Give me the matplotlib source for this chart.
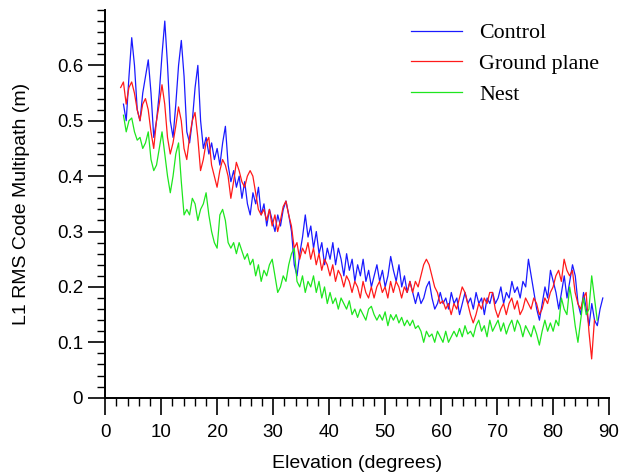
import numpy as np
import matplotlib
matplotlib.use('Agg')
import matplotlib.pyplot as plt
from matplotlib.ticker import MultipleLocator

control = [
    0.53, 0.50, 0.58, 0.65, 0.60, 0.52, 0.50, 0.55, 0.58, 0.61,
    0.55, 0.47, 0.50, 0.55, 0.62, 0.68, 0.60, 0.50, 0.47, 0.53,
    0.60, 0.645, 0.58, 0.48, 0.46, 0.50, 0.56, 0.60, 0.50, 0.45,
    0.47, 0.44, 0.46, 0.43, 0.45, 0.42, 0.46, 0.49, 0.42, 0.39,
    0.41, 0.38, 0.40, 0.36, 0.39, 0.35, 0.33, 0.37, 0.35, 0.38,
    0.33, 0.35, 0.31, 0.34, 0.32, 0.30, 0.33, 0.31, 0.34, 0.355,
    0.33, 0.30, 0.24, 0.22, 0.26, 0.29, 0.33, 0.29, 0.31, 0.27,
    0.30, 0.26, 0.28, 0.24, 0.27, 0.25, 0.28, 0.24, 0.27, 0.25,
    0.22, 0.26, 0.23, 0.25, 0.21, 0.24, 0.22, 0.25, 0.21, 0.23,
    0.20, 0.22, 0.24, 0.21, 0.23, 0.20, 0.22, 0.255, 0.23, 0.21,
    0.24, 0.20, 0.22, 0.19, 0.21, 0.19, 0.17, 0.19, 0.17, 0.18,
    0.20, 0.21, 0.18, 0.16, 0.17, 0.19, 0.17, 0.18, 0.16, 0.19,
    0.17, 0.18, 0.15, 0.17, 0.19, 0.17, 0.18, 0.16, 0.19, 0.17,
    0.18, 0.15, 0.18, 0.17, 0.19, 0.17, 0.18, 0.20, 0.17, 0.19,
    0.18, 0.21, 0.19, 0.20, 0.18, 0.21, 0.20, 0.25, 0.22, 0.19,
    0.16, 0.14, 0.17, 0.20, 0.18, 0.23, 0.21, 0.19, 0.16, 0.19,
    0.22, 0.18, 0.21, 0.24, 0.22, 0.17, 0.15, 0.19, 0.16, 0.13,
    0.17, 0.14, 0.13, 0.16, 0.18,
]

ground_plane = [
    0.56, 0.57, 0.53, 0.56, 0.57, 0.55, 0.52, 0.50, 0.53, 0.54,
    0.52, 0.48, 0.45, 0.50, 0.53, 0.565, 0.53, 0.47, 0.44, 0.46,
    0.49, 0.525, 0.50, 0.45, 0.43, 0.47, 0.50, 0.515, 0.47, 0.41,
    0.43, 0.46, 0.47, 0.42, 0.40, 0.38, 0.41, 0.43, 0.42, 0.40,
    0.36, 0.39, 0.425, 0.41, 0.39, 0.38, 0.40, 0.41, 0.40, 0.37,
    0.34, 0.33, 0.34, 0.32, 0.34, 0.31, 0.33, 0.30, 0.32, 0.345,
    0.355, 0.33, 0.31, 0.27, 0.28, 0.25, 0.27, 0.26, 0.28, 0.25,
    0.27, 0.24, 0.26, 0.23, 0.25, 0.24, 0.22, 0.24, 0.21, 0.23,
    0.22, 0.20, 0.22, 0.21, 0.19, 0.21, 0.20, 0.18, 0.21, 0.19,
    0.18, 0.20, 0.18, 0.20, 0.21, 0.19, 0.20, 0.18, 0.21, 0.19,
    0.21, 0.20, 0.18, 0.20, 0.19, 0.21, 0.19, 0.21, 0.20, 0.22,
    0.24, 0.25, 0.24, 0.22, 0.20, 0.19, 0.17, 0.175, 0.16, 0.17,
    0.15, 0.17, 0.16, 0.18, 0.20, 0.19, 0.17, 0.15, 0.135, 0.15,
    0.17, 0.16, 0.18, 0.17, 0.19, 0.19, 0.16, 0.145, 0.16, 0.17,
    0.15, 0.17, 0.18, 0.16, 0.175, 0.15, 0.16, 0.18, 0.17, 0.16,
    0.18, 0.17, 0.15, 0.16, 0.18, 0.17, 0.19, 0.20, 0.22, 0.23,
    0.21, 0.25, 0.23, 0.22, 0.23, 0.19, 0.17, 0.16, 0.18, 0.19,
    0.12, 0.07, 0.14,
]

nest = [
    0.51, 0.48, 0.50, 0.505, 0.48, 0.465, 0.47, 0.45, 0.46, 0.48,
    0.43, 0.41, 0.42, 0.45, 0.48, 0.44, 0.40, 0.37, 0.40, 0.44,
    0.46, 0.39, 0.33, 0.34, 0.33, 0.36, 0.35, 0.32, 0.34, 0.35,
    0.37, 0.33, 0.30, 0.28, 0.27, 0.33, 0.34, 0.32, 0.28, 0.27,
    0.28, 0.26, 0.28, 0.265, 0.25, 0.26, 0.24, 0.25, 0.22, 0.24,
    0.21, 0.23, 0.22, 0.24, 0.25, 0.22, 0.19, 0.20, 0.22, 0.21,
    0.24, 0.26, 0.27, 0.21, 0.20, 0.22, 0.19, 0.21, 0.20, 0.22,
    0.19, 0.21, 0.18, 0.20, 0.17, 0.19, 0.17, 0.18, 0.16, 0.18,
    0.17, 0.16, 0.175, 0.15, 0.16, 0.145, 0.16, 0.15, 0.14, 0.16,
    0.165, 0.15, 0.14, 0.15, 0.14, 0.155, 0.13, 0.15, 0.14, 0.15,
    0.135, 0.145, 0.13, 0.14, 0.13, 0.14, 0.125, 0.13, 0.12, 0.10,
    0.12, 0.11, 0.115, 0.10, 0.12, 0.11, 0.10, 0.12, 0.10, 0.11,
    0.12, 0.11, 0.125, 0.11, 0.13, 0.115, 0.12, 0.11, 0.13, 0.14,
    0.12, 0.13, 0.11, 0.14, 0.12, 0.13, 0.14, 0.12, 0.135, 0.115,
    0.13, 0.14, 0.12, 0.14, 0.13, 0.11, 0.13, 0.12, 0.11, 0.13,
    0.115, 0.095, 0.12, 0.14, 0.12, 0.135, 0.12, 0.14, 0.13, 0.18,
    0.16, 0.15, 0.20, 0.17, 0.13, 0.10, 0.14, 0.18, 0.15, 0.16,
    0.22, 0.18, 0.14,
]

# premiere et derniere elevation de chaque courbe (degres)
control_range = (3.25, 88.9)
ground_range = (2.75, 87.4)
nest_range = (3.25, 87.9)

series_labels = ['Control', 'Ground plane', 'Nest']
series_colors = ['#1a1aff', '#ff1a1a', '#1ee61e']

plt.rcParams['font.family'] = ['Liberation Sans', 'DejaVu Sans']

fig = plt.figure(figsize=(6.2, 4.76), dpi=100)
ax = fig.add_axes([0.1698, 0.1645, 0.8124, 0.8145])

elev_c = np.linspace(control_range[0], control_range[1], len(control))
elev_g = np.linspace(ground_range[0], ground_range[1], len(ground_plane))
elev_n = np.linspace(nest_range[0], nest_range[1], len(nest))

ax.plot(elev_c, control, color=series_colors[0], lw=0.9, label=series_labels[0])
ax.plot(elev_g, ground_plane, color=series_colors[1], lw=0.9, label=series_labels[1])
ax.plot(elev_n, nest, color=series_colors[2], lw=0.9, label=series_labels[2])

ax.set_xlim(0, 90)
ax.set_ylim(0, 0.7)
ax.set_xticks(np.arange(0, 91, 10))
ax.set_yticks(np.arange(0, 0.61, 0.1))
ax.set_yticklabels(['0', '0.1', '0.2', '0.3', '0.4', '0.5', '0.6'])
ax.xaxis.set_minor_locator(MultipleLocator(2))
ax.yaxis.set_minor_locator(MultipleLocator(0.02))
ax.tick_params(which='major', length=12, width=1.2, labelsize=13.5, direction='out')
ax.tick_params(axis='x', which='major', pad=7)
ax.tick_params(axis='y', which='major', pad=4)
ax.tick_params(which='minor', length=5.8, width=1.0, direction='out')

for s in ['top', 'right']:
    ax.spines[s].set_visible(False)
for s in ['left', 'bottom']:
    ax.spines[s].set_linewidth(1.4)

ax.set_xlabel('Elevation (degrees)', fontsize=14, labelpad=10)
ax.set_ylabel('L1 RMS Code Multipath (m)', fontsize=14, labelpad=19)

leg = ax.legend(loc='upper left', bbox_to_anchor=(0.607, 0.9665), frameon=False,
                borderaxespad=0, borderpad=0, handlelength=2.33, handletextpad=0.78,
                labelspacing=0.47, prop={'family': 'Liberation Serif', 'size': 15.8})
for line in leg.get_lines():
    line.set_linewidth(0.9)

fig.savefig('out.png', dpi=100)
